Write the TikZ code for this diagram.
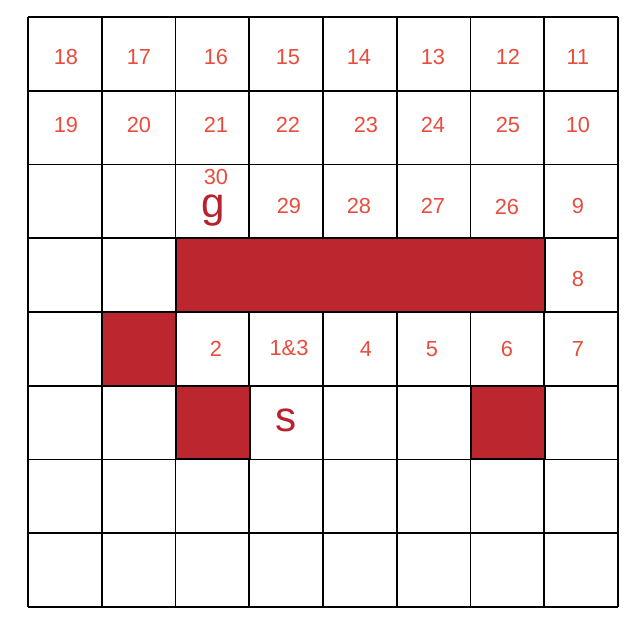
\documentclass[tikz,border=0pt]{standalone}
\usepackage{fontspec}
\setmainfont{Liberation Sans}
\usepackage{tikz}

\definecolor{wallred}{RGB}{188,38,47}
\definecolor{numred}{RGB}{232,76,61}
\definecolor{markred}{RGB}{183,34,46}

\begin{document}
\begin{tikzpicture}[x=0.025cm,y=-0.025cm,
    gridline/.style={black,line width=1.2pt},
    wall/.style={fill=wallred,draw=black,line width=1.2pt},
    num/.style={text=numred,font=\fontsize{15.5}{18}\selectfont,inner sep=0pt},
    letter/.style={text=markred,font=\fontsize{30}{36}\selectfont,inner sep=0pt}]
  \useasboundingbox (0,0) rectangle (640,624);

  % grid
  \foreach \i in {0,...,8} {
    \draw[gridline] ({28+73.75*\i},17) -- ({28+73.75*\i},607);
    \draw[gridline] (28,{17+73.75*\i}) -- (618,{17+73.75*\i});
  }

  % walls
  \draw[wall] (176,238) rectangle (545,312);
  \draw[wall] (102,312) rectangle (176,386);
  \draw[wall] (176,386) rectangle (250,459);
  \draw[wall] (471,386) rectangle (545,459);

  % path numbers
  \foreach \t/\x/\y [count=\k] in {18/66/57, 17/139/57, 16/216/57, 15/288/57,
      14/359/57, 13/433/57, 12/508/57, 11/578/57,
      19/66/125, 20/139/125, 21/216/125, 22/288/125, 23/366/125, 24/433/125,
      25/508/125, 10/578/125,
      30/216/177, 29/289/206, 28/359/206, 27/433/206, 26/507/207, 9/578/206,
      8/578/279,
      2/216/349, 1\&3/289/348, 4/366/349, 5/432/349, 6/507/349, 7/578/349}
    \node[num] (n\k) at (\x,\y) {\t};

  \node[letter] (goal) at (213,211) {g};
  \node[letter] (start) at (286,420) {s};
\end{tikzpicture}
\end{document}
